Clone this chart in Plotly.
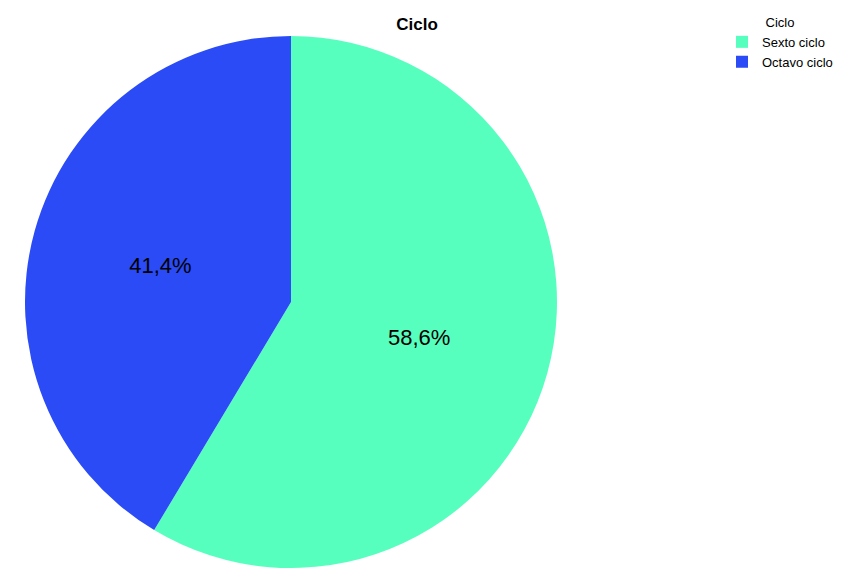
import plotly.graph_objects as go

categories = ["Sexto ciclo", "Octavo ciclo"]
percentages = [58.6, 41.4]
colors = ["#57FFBE", "#2A4BF5"]

W, H = 849, 568
cx, cy, r = 291, 302, 266  # pie centre/radius in pixels (from top-left)
FONT = "Liberation Sans, Arial, sans-serif"

fig = go.Figure(
    go.Pie(
        labels=categories,
        values=percentages,
        sort=False,
        direction="clockwise",
        rotation=0,
        marker=dict(colors=colors, line=dict(width=0)),
        texttemplate="%{percent:.1%}",
        textposition="inside",
        insidetextorientation="horizontal",
        textfont=dict(family=FONT, size=22, color="#000000"),
        domain=dict(x=[(cx - r) / W, (cx + r) / W], y=[(H - cy - r) / H, (H - cy + r) / H]),
        hoverinfo="label+percent",
    )
)

fig.update_layout(
    width=W,
    height=H,
    margin=dict(l=0, r=0, t=0, b=0),
    paper_bgcolor="white",
    plot_bgcolor="white",
    separators=",.",
    title=dict(
        text="<b>Ciclo</b>",
        x=417 / W,
        xanchor="center",
        y=1 - 24 / H,
        yanchor="middle",
        yref="container",
        font=dict(family=FONT, size=17, color="#000000"),
    ),
    legend=dict(
        title=dict(text="Ciclo", side="top center",
                   font=dict(family=FONT, size=13, color="#000000")),
        x=722 / W,
        xanchor="left",
        y=1 - 10 / H,
        yanchor="top",
        font=dict(family=FONT, size=13, color="#000000"),
        bgcolor="rgba(0,0,0,0)",
        tracegroupgap=0,
    ),
)

fig.write_html("out.html")
